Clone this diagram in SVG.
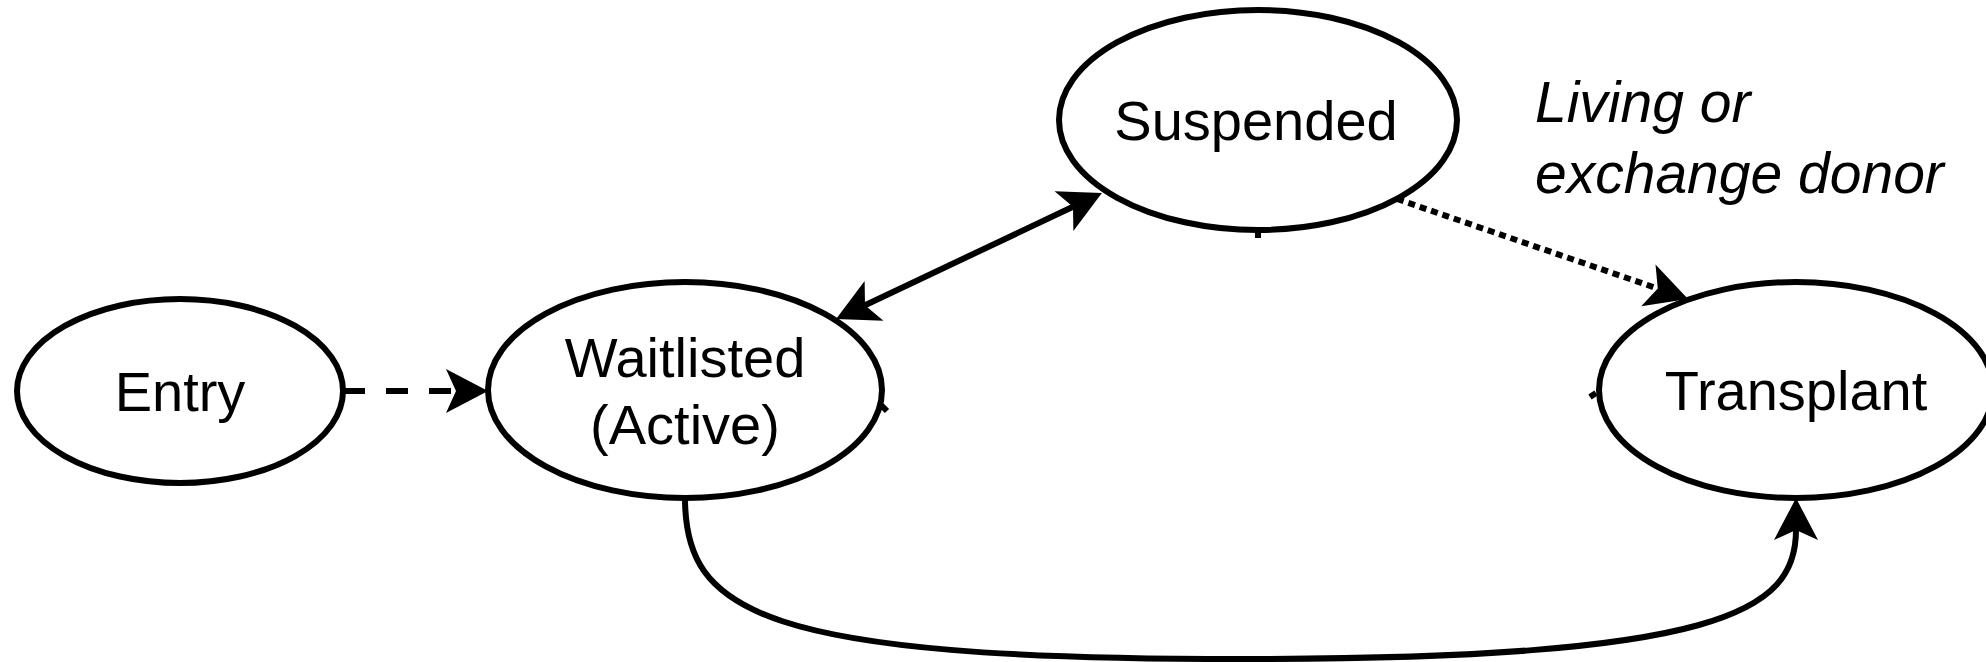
<svg xmlns="http://www.w3.org/2000/svg" width="1986" height="662" viewBox="0 0 1986 662">
  <style>
    .node { fill: #ffffff; stroke: #000000; stroke-width: 6; }
    .lbl { font-family: "Liberation Sans", Arial, sans-serif; font-size: 56px; fill: #000000; text-anchor: middle; }
    .note { font-family: "Liberation Sans", Arial, sans-serif; font-size: 57px; font-style: italic; fill: #000000; }
    .edge { fill: none; stroke: #000000; stroke-width: 6; }
    .dashed { stroke-dasharray: 22 21; }
    .dotted { stroke-dasharray: 7 5; }
  </style>
  <defs>
    <marker id="arr" markerUnits="userSpaceOnUse" markerWidth="60" markerHeight="60" refX="0" refY="0" orient="auto-start-reverse" overflow="visible">
      <path d="M32,0 L-10,-22 L0,0 L-10,22 Z" fill="#000000" stroke="none"/>
    </marker>
  </defs>
  <rect x="0" y="0" width="1986" height="662" fill="#ffffff"/>

  <g id="connectors">
    <path class="edge dashed" d="M343,391 L456,391" marker-end="url(#arr)"/>
    <path class="edge" d="M865,305.2 L1073,206.8" marker-start="url(#arr)" marker-end="url(#arr)"/>
    <path class="edge dotted" d="M1397,199 L1657.8,288.6" marker-end="url(#arr)"/>
    <path class="edge" d="M685,498 C685,612 760,659 1240,659 C1720,659 1796,612 1796,530" marker-end="url(#arr)"/>
    <path class="edge" d="M881,405 L887,411"/>
    <path class="edge" d="M1596,393 L1590,397"/>
    <path class="edge" d="M1258,229 L1258,238"/>
  </g>

  <g id="node-entry">
    <ellipse class="node" cx="180" cy="391" rx="163" ry="92"/>
    <text class="lbl" x="180" y="411">Entry</text>
  </g>
  <g id="node-waitlisted">
    <ellipse class="node" cx="685" cy="390" rx="197" ry="108"/>
    <text class="lbl" x="685" y="377">Waitlisted</text>
    <text class="lbl" x="685" y="444">(Active)</text>
  </g>
  <g id="node-suspended">
    <ellipse class="node" cx="1258" cy="120" rx="199" ry="110"/>
    <text class="lbl" x="1256" y="140">Suspended</text>
  </g>
  <g id="node-transplant">
    <ellipse class="node" cx="1796" cy="390" rx="197" ry="108"/>
    <text class="lbl" x="1796" y="410">Transplant</text>
  </g>
  <g id="label-donor">
    <text class="note" x="1535" y="122">Living or</text>
    <text class="note" x="1535" y="193">exchange donor</text>
  </g>
</svg>
